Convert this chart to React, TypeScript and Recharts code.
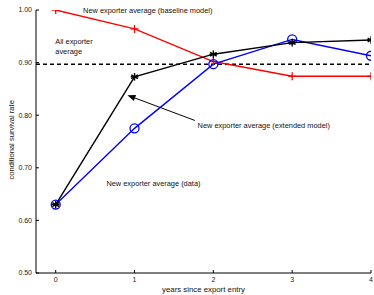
import { ComposedChart, Line, XAxis, YAxis, ReferenceLine, ReferenceDot } from "recharts";

const years = [0, 1, 2, 3, 4];
const baselineModel = [1.0, 0.964, 0.902, 0.874, 0.874];
const extendedModel = [0.63, 0.873, 0.916, 0.938, 0.943];
const dataAverage = [0.63, 0.775, 0.897, 0.944, 0.913];
const allExporterAverage = 0.897;
const yTicks = [0.5, 0.6, 0.7, 0.8, 0.9, 1.0];

const rows = years.map((y, i) => ({
  year: y,
  baseline: baselineModel[i],
  extended: extendedModel[i],
  data: dataAverage[i],
}));

const FONT = "'Liberation Sans', Arial, Helvetica, sans-serif";

const PlusDot = (p: any) => {
  const { cx, cy } = p;
  return (
    <g key={p.index}>
      <line x1={cx - 4} x2={cx + 4} y1={cy} y2={cy} stroke="#ff0000" strokeWidth={1.3} />
      <line x1={cx} x2={cx} y1={cy - 4} y2={cy + 4} stroke="#ff0000" strokeWidth={1.3} />
    </g>
  );
};

const StarDot = (p: any) => {
  const { cx, cy } = p;
  const r = 3.8;
  const angles = [0, 60, 120];
  return (
    <g key={p.index}>
      {angles.map((a) => {
        const rad = ((a + 90) * Math.PI) / 180;
        const dx = Math.cos(rad) * r;
        const dy = Math.sin(rad) * r;
        return <line key={a} x1={cx - dx} y1={cy - dy} x2={cx + dx} y2={cy + dy} stroke="#000" strokeWidth={1.4} />;
      })}
      <line x1={cx - r} x2={cx + r} y1={cy} y2={cy} stroke="#000" strokeWidth={1.4} />
    </g>
  );
};

const CircleDot = (p: any) => (
  <circle key={p.index} cx={p.cx} cy={p.cy} r={4.5} fill="none" stroke="#0000ff" strokeWidth={1.3} />
);

const textAt = (lines: string[], size = 7.4) => (p: any) => (
  <text x={p.cx} y={p.cy} fontSize={size} fontFamily={FONT} fill="#111">
    {lines.map((l, i) => (
      <tspan key={i} x={p.cx} dy={i === 0 ? "0.35em" : "1.35em"}>
        {l}
      </tspan>
    ))}
  </text>
);

const Arrow = (p: any) => {
  const { x1, y1, x2, y2 } = p;
  const ang = Math.atan2(y2 - y1, x2 - x1);
  const L = 8;
  const W = 3.2;
  const bx = x2 - Math.cos(ang) * L;
  const by = y2 - Math.sin(ang) * L;
  const nx = -Math.sin(ang) * W;
  const ny = Math.cos(ang) * W;
  return (
    <g>
      <line x1={x1} y1={y1} x2={bx} y2={by} stroke="#000" strokeWidth={1} />
      <polygon points={`${x2},${y2} ${bx + nx},${by + ny} ${bx - nx},${by - ny}`} fill="#000" />
    </g>
  );
};

export default function App() {
  return (
    <div style={{ position: "absolute", left: 0, top: 0, width: 374, height: 295, background: "#fff" }}>
      <ComposedChart
        width={374}
        height={295}
        data={rows}
        margin={{ top: 10, right: 3, left: 0, bottom: 0 }}
      >
        <XAxis
          dataKey="year"
          type="number"
          domain={[-0.25, 4]}
          ticks={years}
          height={22}
          allowDataOverflow
          tickSize={-3}
          tickMargin={7}
          tick={{ fontSize: 7, fontFamily: FONT, fill: "#222" }}
          axisLine={{ stroke: "#000", strokeWidth: 1 }}
          tickLine={{ stroke: "#000" }}
          label={{ value: "years since export entry", position: "insideBottom", offset: 0, dy: -3, fontSize: 7.8, fontFamily: FONT, fill: "#111" }}
        />
        <YAxis
          type="number"
          domain={[0.5, 1]}
          ticks={yTicks}
          width={36}
          allowDataOverflow
          tickSize={-3}
          tickMargin={7}
          tickFormatter={(v: number) => v.toFixed(2)}
          tick={{ fontSize: 7, fontFamily: FONT, fill: "#222" }}
          axisLine={{ stroke: "#000", strokeWidth: 1 }}
          tickLine={{ stroke: "#000" }}
          label={{ value: "conditional survival rate", angle: -90, position: "insideLeft", offset: 11, dy: 38, fontSize: 7.6, fontFamily: FONT, fill: "#111" }}
        />
        <ReferenceLine y={allExporterAverage} stroke="#000" strokeWidth={1.4} strokeDasharray="4 3" />
        <Line dataKey="baseline" stroke="#ff0000" strokeWidth={1.4} dot={PlusDot} isAnimationActive={false} />
        <Line dataKey="data" stroke="#0000ff" strokeWidth={1.4} dot={CircleDot} isAnimationActive={false} />
        <Line dataKey="extended" stroke="#000" strokeWidth={1.4} dot={StarDot} isAnimationActive={false} />
        <ReferenceLine
          segment={[
            { x: 1.765, y: 0.79 },
            { x: 0.91, y: 0.838 },
          ]}
          shape={Arrow}
        />
        <ReferenceDot x={0.347} y={1.0} ifOverflow="visible" r={0} shape={textAt(["New exporter average (baseline model)"])} />
        <ReferenceDot x={-0.005} y={0.941} r={0} shape={textAt(["All exporter", "average"])} />
        <ReferenceDot x={1.8} y={0.78} r={0} shape={textAt(["New exporter average (extended model)"])} />
        <ReferenceDot x={0.643} y={0.67} r={0} shape={textAt(["New exporter average (data)"])} />
      </ComposedChart>
    </div>
  );
}
